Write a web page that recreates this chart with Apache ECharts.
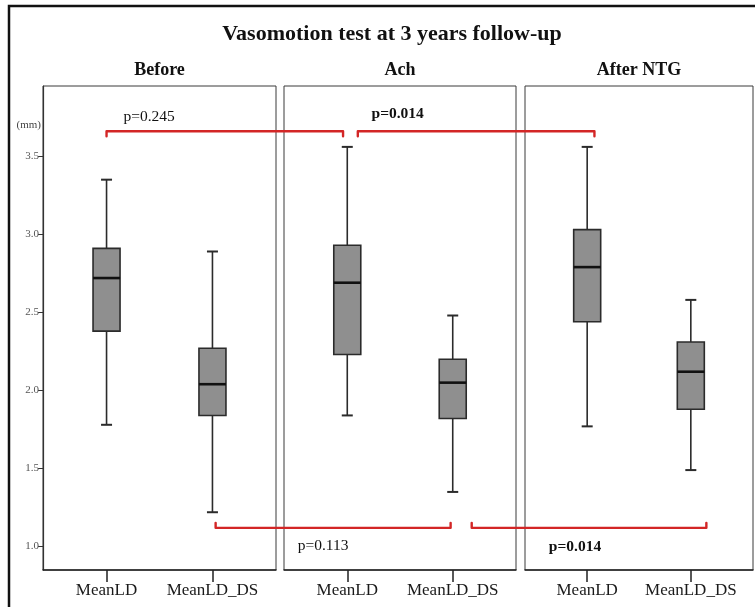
<!DOCTYPE html>
<html><head><meta charset="utf-8">
<script src="https://cdn.jsdelivr.net/npm/echarts@6/dist/echarts.min.js"></script>
<style>html,body{margin:0;padding:0;background:#fff}#c{width:755px;height:607px}</style>
</head><body><div id="c"></div>
<script>
// ---- data ----
const chartTitle = 'Vasomotion test at 3 years follow-up';
const panels = ['Before', 'Ach', 'After NTG'];
const categories = ['MeanLD', 'MeanLD_DS'];
// each box: [low whisker, Q1, median, Q3, high whisker]
const beforeBoxes = [[1.78, 2.38, 2.72, 2.91, 3.35], [1.22, 1.84, 2.04, 2.27, 2.89]];
const achBoxes    = [[1.84, 2.23, 2.69, 2.93, 3.56], [1.35, 1.82, 2.05, 2.20, 2.48]];
const afterBoxes  = [[1.77, 2.44, 2.79, 3.03, 3.56], [1.49, 1.88, 2.12, 2.31, 2.58]];
const yTicks = [1.0, 1.5, 2.0, 2.5, 3.0, 3.5];
const yUnit = '(mm)';
// comparison brackets: endpoints as [panel, category position], level in mm
const bracketFrom  = [[0, 0], [1, 0.10], [0, 1.03], [1, 1.18]];
const bracketTo    = [[1, -0.04], [2, 0.07], [1, 0.98], [2, 1.15]];
const bracketLevel = [3.66, 3.66, 1.12, 1.12];
const bracketSide  = ['top', 'top', 'bottom', 'bottom'];
// p-value labels: text, bold?, anchor [panel, category position, mm]
const pTexts  = ['p=0.245', 'p=0.014', 'p=0.113', 'p=0.014'];
const pBold   = [false, true, false, true];
const pAnchor = [[0, 0.16, 3.755], [1, 0.23, 3.77], [1, -0.47, 1.005], [2, -0.37, 0.995]];

const allBoxes = [beforeBoxes, achBoxes, afterBoxes];
const serif = '"Liberation Serif", "DejaVu Serif", serif';

// ---- layout ----
const gridDefs = [{left: 43, width: 233}, {left: 284, width: 232}, {left: 525, width: 228}];
const gridTop = 86, gridHeight = 484;
const yMin = 0.85, yMax = 3.95;

const chart = echarts.init(document.getElementById('c'), null, {renderer: 'canvas'});

function renderBox(params, api) {
  const x = api.value(0);
  const lo = api.coord([x, api.value(1)]);
  const q1 = api.coord([x, api.value(2)]);
  const md = api.coord([x, api.value(3)]);
  const q3 = api.coord([x, api.value(4)]);
  const hi = api.coord([x, api.value(5)]);
  const cx = lo[0], bw = 27, cw = 11;
  const ls = {stroke: '#2b2b2b', lineWidth: 1.6};
  return {type: 'group', children: [
    {type: 'line', shape: {x1: cx, y1: hi[1], x2: cx, y2: q3[1]}, style: ls},
    {type: 'line', shape: {x1: cx, y1: q1[1], x2: cx, y2: lo[1]}, style: ls},
    {type: 'line', shape: {x1: cx - cw / 2, y1: hi[1], x2: cx + cw / 2, y2: hi[1]}, style: {stroke: '#2b2b2b', lineWidth: 2}},
    {type: 'line', shape: {x1: cx - cw / 2, y1: lo[1], x2: cx + cw / 2, y2: lo[1]}, style: {stroke: '#2b2b2b', lineWidth: 2}},
    {type: 'rect', shape: {x: cx - bw / 2, y: q3[1], width: bw, height: q1[1] - q3[1]},
     style: {fill: '#8f8f8f', stroke: '#2b2b2b', lineWidth: 1.6}},
    {type: 'line', shape: {x1: cx - bw / 2, y1: md[1], x2: cx + bw / 2, y2: md[1]}, style: {stroke: '#111', lineWidth: 2.6}}
  ]};
}

const grids = gridDefs.map(g => ({
  left: g.left, width: g.width, top: gridTop, height: gridHeight,
  show: true, borderColor: '#3a3a3a', borderWidth: 1, backgroundColor: 'transparent',
  containLabel: false, outerBoundsMode: 'none'
}));

const xAxes = gridDefs.map((g, i) => ({
  type: 'value', gridIndex: i, min: -0.6, max: 1.6,
  splitLine: {show: false},
  axisLine: {show: true, onZero: false, lineStyle: {color: '#222', width: 1.5}},
  axisTick: {show: true, customValues: [0, 1], length: 12, lineStyle: {color: '#222', width: 1.5}},
  axisLabel: {show: true, customValues: [0, 1], formatter: v => categories[Math.round(v)],
    fontFamily: serif, fontSize: 17, color: '#1a1a1a', margin: 12}
}));

const yAxes = gridDefs.map((g, i) => ({
  type: 'value', gridIndex: i, min: yMin, max: yMax,
  show: i === 0,
  splitLine: {show: false},
  axisLine: {show: true, onZero: false, lineStyle: {color: '#333', width: 1.2}},
  axisTick: {show: true, customValues: yTicks, length: 5, lineStyle: {color: '#333', width: 1}},
  axisLabel: {show: true, customValues: yTicks, formatter: v => v.toFixed(1),
    fontFamily: serif, fontSize: 11, color: '#555', margin: 4}
}));

const series = allBoxes.map((boxes, i) => ({
  type: 'custom', xAxisIndex: i, yAxisIndex: i,
  renderItem: renderBox,
  encode: {x: 0, y: [1, 2, 3, 4, 5]},
  data: boxes.map((b, k) => [k].concat(b)),
  z: 3
}));

chart.setOption({
  backgroundColor: '#fff',
  animation: false,
  grid: grids, xAxis: xAxes, yAxis: yAxes, series: series
});

// ---- annotations positioned via the chart's own scales ----
const graphics = [];
graphics.push({type: 'rect', shape: {x: 9, y: 6, width: 770, height: 640},
  style: {fill: 'none', stroke: '#111', lineWidth: 2.5}, z: 10});
graphics.push({type: 'text', x: 392, y: 34, z: 10,
  style: {text: chartTitle, font: 'bold 22px ' + serif, fill: '#111', textAlign: 'center', textVerticalAlign: 'middle'}});
panels.forEach((p, i) => {
  const c0 = chart.convertToPixel({gridIndex: i}, [-0.6, yMax]);
  const c1 = chart.convertToPixel({gridIndex: i}, [1.6, yMax]);
  graphics.push({type: 'text', x: (c0[0] + c1[0]) / 2, y: 70, z: 10,
    style: {text: p, font: 'bold 18px ' + serif, fill: '#111', textAlign: 'center', textVerticalAlign: 'middle'}});
});
const unitPos = chart.convertToPixel({gridIndex: 0}, [-0.6, 3.70]);
graphics.push({type: 'text', x: unitPos[0] - 2, y: unitPos[1], z: 10,
  style: {text: yUnit, font: '11px ' + serif, fill: '#444', textAlign: 'right', textVerticalAlign: 'middle'}});

bracketFrom.forEach((f, i) => {
  const t = bracketTo[i];
  const a = chart.convertToPixel({gridIndex: f[0]}, [f[1], bracketLevel[i]]);
  const b = chart.convertToPixel({gridIndex: t[0]}, [t[1], bracketLevel[i]]);
  const d = bracketSide[i] === 'top' ? 5 : -5;
  graphics.push({type: 'polyline', z: 8,
    shape: {points: [[a[0], a[1] + d], [a[0], a[1]], [b[0], b[1]], [b[0], b[1] + d]]},
    style: {stroke: '#d32626', lineWidth: 2.4, fill: 'none', lineJoin: 'round', lineCap: 'round'}});
});

pTexts.forEach((txt, i) => {
  const an = pAnchor[i];
  const p = chart.convertToPixel({gridIndex: an[0]}, [an[1], an[2]]);
  graphics.push({type: 'text', x: p[0], y: p[1], z: 10,
    style: {text: txt, font: (pBold[i] ? 'bold ' : '') + '15.5px ' + serif, fill: '#111',
      textAlign: 'left', textVerticalAlign: 'middle'}});
});

chart.setOption({graphic: graphics});
</script>
</body></html>
